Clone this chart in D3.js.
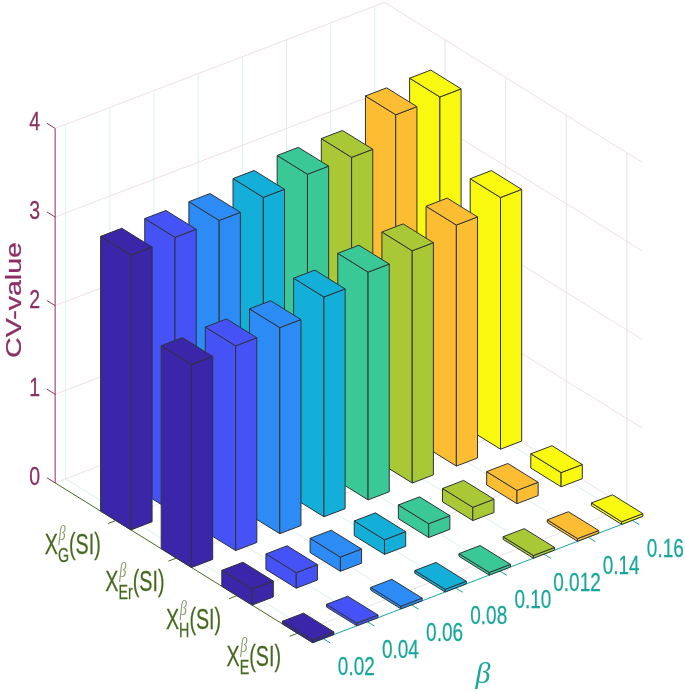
<!DOCTYPE html>
<html><head><meta charset="utf-8">
<script src="https://cdn.jsdelivr.net/npm/d3@7/dist/d3.min.js"></script>
<style>html,body{margin:0;padding:0;background:#fff}svg{display:block;filter:blur(0.35px)}text{font-family:"Liberation Sans",Arial,sans-serif;stroke-width:0.25px;paint-order:stroke}</style>
</head><body><svg id="c" width="685" height="692"></svg>
<script>
const betaLabels = ["0.02","0.04","0.06","0.08","0.10","0.012","0.14","0.16"];
const rowSubs = ["E","H","Er","G"];
const zTicks = [0,1,2,3,4];
const rowE  = [0.03,0.03,0.03,0.03,0.03,0.03,0.03,0.03];
const rowH  = [0.18,0.175,0.16,0.165,0.155,0.15,0.15,0.16];
const rowEr = [2.29,2.31,2.325,2.48,2.57,2.62,2.72,2.84];
const rowG  = [3.10,3.11,3.11,3.18,3.25,3.25,3.54,3.55];
const rowsData = [rowE,rowH,rowEr,rowG];
const barColors = ["#3b25a8","#4552f5","#2d8bf6","#14afd9","#3ac896","#a9c836","#fdbd33","#f9f90f"];

const cMaroon="#8c2f62", cGreen="#47691f", cTeal="#17a79c";
const gridPink="#eee0e4", gridCyan="#dcf0f1", gridWarm="#e9e5e0";

const HALF_X=0.24, HALF_Y=0.25;
const xMin=-HALF_X, xMax=7.22, yMin=-HALF_Y, yMax=4.0;
// oblique projection built from linear scales
const xPx=d3.scaleLinear().domain([0,7]).range([0,309]);
const xPy=d3.scaleLinear().domain([0,7]).range([0,-118.3]);
const yPx=d3.scaleLinear().domain([0,3]).range([0,-181.8]);
const yPy=d3.scaleLinear().domain([0,3]).range([0,-112.8]);
const zPy=d3.scaleLinear().domain([0,4]).range([0,-354.5]);
const OX=312.7-xPx(xMin)-yPx(yMin), OY=642.7-xPy(xMin)-yPy(yMin);
const P=(x,y,z)=>[OX+xPx(x)+yPx(y), OY+xPy(x)+yPy(y)+zPy(z)];

const svg=d3.select("#c");
const line=(g,a,b,col,w)=>g.append("line").attr("x1",a[0]).attr("y1",a[1]).attr("x2",b[0]).attr("y2",b[1]).attr("stroke",col).attr("stroke-width",w);

// grid
const grid=svg.append("g");
zTicks.forEach(z=>{
  line(grid,P(xMin,yMax,z),P(xMax,yMax,z),gridPink,1);
  line(grid,P(xMax,yMax,z),P(xMax,yMin,z),gridPink,1);
});
betaLabels.forEach((_,i)=>{
  line(grid,P(i,yMax,0),P(i,yMax,4),gridCyan,1);
  line(grid,P(i,yMin,0),P(i,yMax,0),gridCyan,1);
});
rowSubs.forEach((_,r)=>{
  line(grid,P(xMax,r,0),P(xMax,r,4),gridWarm,1);
  line(grid,P(xMin,r,0),P(xMax,r,0),gridWarm,1);
});

// axes
const ax=svg.append("g");
line(ax,P(xMin,yMax,0),P(xMin,yMax,4),cMaroon,1);
zTicks.forEach(z=>line(ax,P(xMin,yMax,z),P(xMin,yMax+0.135,z),cMaroon,1));
line(ax,P(xMin,yMin,0),P(xMin,yMax,0),cGreen,1);
rowSubs.forEach((_,r)=>line(ax,P(xMin,r,0),P(xMin-0.18,r,0),cGreen,1));
line(ax,P(xMin,yMin,0),P(xMax,yMin,0),cTeal,1);
betaLabels.forEach((_,i)=>line(ax,P(i,yMin,0),P(i,yMin-0.115,0),cTeal,1));

// bars, painted back to front
const bars=svg.append("g");
const poly=pts=>pts.map(p=>p.join(",")).join(" ");
for(let r=rowsData.length-1;r>=0;r--){
  for(let c=betaLabels.length-1;c>=0;c--){
    const v=rowsData[r][c], x0=c-HALF_X,x1=c+HALF_X,y0=r-HALF_Y,y1=r+HALF_Y;
    const faces=[
      [P(x0,y0,0),P(x0,y1,0),P(x0,y1,v),P(x0,y0,v)],
      [P(x0,y0,0),P(x1,y0,0),P(x1,y0,v),P(x0,y0,v)],
      [P(x0,y0,v),P(x1,y0,v),P(x1,y1,v),P(x0,y1,v)]
    ];
    bars.selectAll(null).data(faces).enter().append("polygon")
      .attr("points",poly).attr("fill",barColors[c])
      .attr("stroke","#2f3338").attr("stroke-width",1).attr("stroke-linejoin","round");
  }
}

// labels
const txt=(parent,x,y,s,size,col,sx,anchor)=>parent.append("text")
  .attr("transform",`translate(${x},${y}) scale(${sx},1)`)
  .attr("text-anchor",anchor||"middle").attr("font-size",size).attr("fill",col).attr("stroke",col).text(s);

zTicks.forEach(z=>{
  const p=P(xMin,yMax,z);
  txt(svg,p[0]-20.5,p[1]+2,String(z),25,cMaroon,0.78);
});
betaLabels.forEach((s,i)=>{
  const p=P(i,yMin,0);
  txt(svg,p[0]+33,p[1]+36.5,s,26,cTeal,0.73);
});
rowSubs.forEach((sub,r)=>{
  const p=P(xMin,r,0);
  const g=svg.append("g").attr("transform",`translate(${p[0]-71},${p[1]+33}) scale(0.68,1)`);
  const t=g.append("text").attr("font-size",29).attr("fill",cGreen).attr("stroke",cGreen).text("X");
  const w=t.node().getComputedTextLength();
  const subT=g.append("text").attr("x",w).attr("y",8).attr("font-size",21).attr("fill",cGreen).attr("stroke",cGreen).text(sub);
  const supT=g.append("text").attr("x",w+1).attr("y",-14).attr("font-size",21).attr("fill","#8a9f70")
    .attr("font-style","italic").style("font-family","'Liberation Serif',serif").text("β");
  const w2=Math.max(subT.node().getComputedTextLength(),supT.node().getComputedTextLength());
  g.append("text").attr("x",w+w2).attr("font-size",29).attr("fill",cGreen).attr("stroke",cGreen).text("(SI)");
});

svg.append("text").attr("transform","translate(20.5,300) rotate(-90)")
  .attr("text-anchor","middle").attr("font-size",22.5).attr("fill",cMaroon).attr("stroke",cMaroon).text("CV-value")
  .attr("textLength",116).attr("lengthAdjust","spacingAndGlyphs");
svg.append("text").attr("x",483).attr("y",683).attr("text-anchor","middle").attr("font-size",30)
  .attr("fill",cTeal).attr("font-style","italic").style("font-family","'Liberation Serif',serif").text("β");
</script></body></html>
